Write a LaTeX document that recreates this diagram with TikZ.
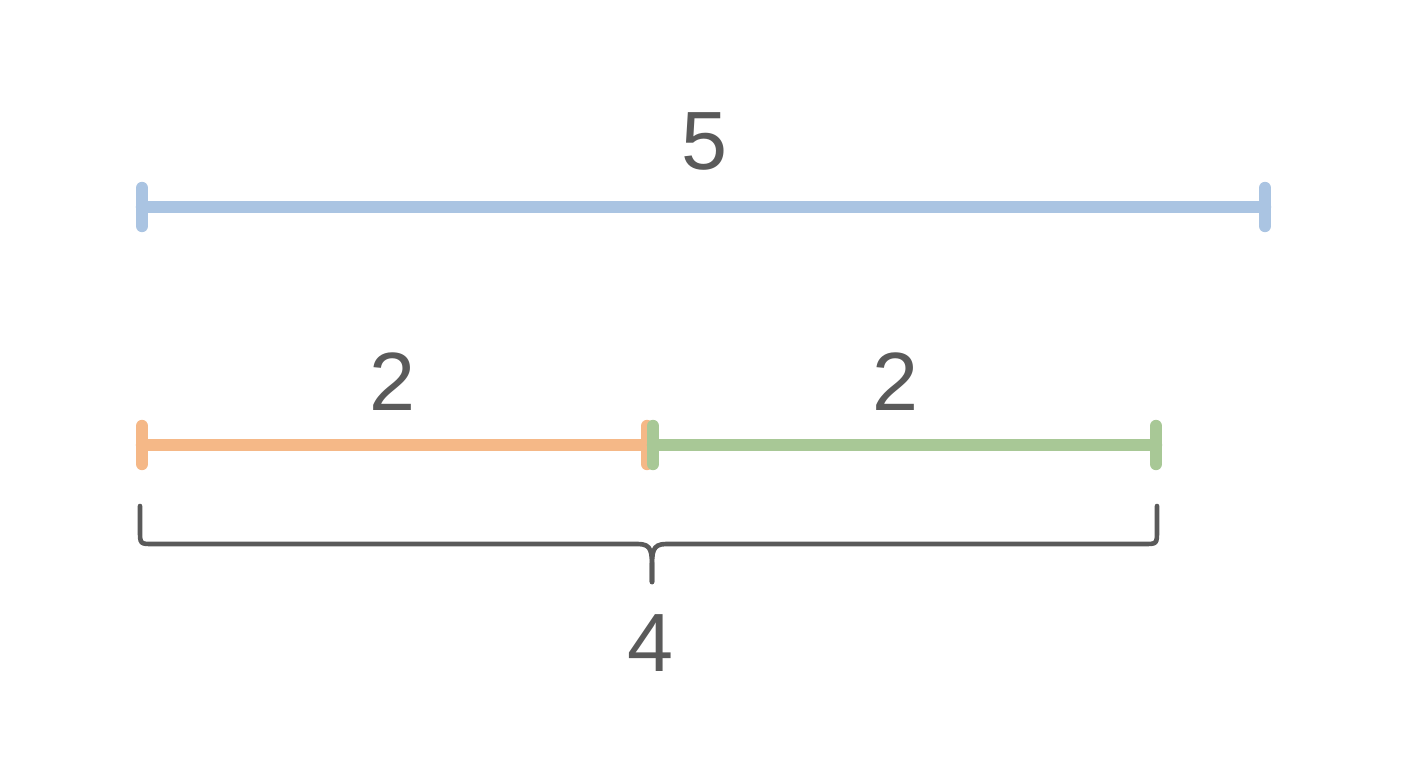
\documentclass[tikz,border=0pt]{standalone}
\usepackage{fontspec}
\setmainfont{Liberation Sans}
\usepackage{tikz}
\usetikzlibrary{calc}
\usepackage{xcolor}
\definecolor{seg-blue}{RGB}{170,196,226}
\definecolor{seg-orange}{RGB}{245,184,135}
\definecolor{seg-green}{RGB}{168,200,150}
\definecolor{label-gray}{RGB}{90,90,90}
\tikzset{
	seg line/.style={line width=6.2bp, line cap=round}
}
\tikzstyle{brace}=[draw=label-gray, line width=2.3bp, line cap=round]
\tikzstyle{numlabel}=[text=label-gray, font=\fontsize{41.5}{48}\selectfont, inner sep=0pt]
\newcommand{\tickSeg}[3]{
	\draw[seg line, #1] (#2) -- (#3);
	\draw[seg line, #1] ($(#2)+(0,-19)$) -- ($(#2)+(0,19)$);
	\draw[seg line, #1] ($(#3)+(0,-19)$) -- ($(#3)+(0,19)$);
}

\begin{document}
\begin{tikzpicture}[x=0.5bp, y=-0.5bp]
	\useasboundingbox (0,0) rectangle (1408,768);
	\coordinate (fiveL) at (142,207);
	\coordinate (fiveR) at (1265,207);
	\coordinate (twoaL) at (142,445);
	\coordinate (twoaR) at (647,445);
	\coordinate (twobL) at (653,445);
	\coordinate (twobR) at (1156,445);
	\tickSeg{seg-blue}{fiveL}{fiveR};
	\tickSeg{seg-orange}{twoaL}{twoaR};
	\tickSeg{seg-green}{twobL}{twobR};
	\node[numlabel] (five) at (704,141) {5};
	\node[numlabel] (twoa) at (392,382) {2};
	\node[numlabel] (twob) at (895,382) {2};
	% brace under the two short segments
	\coordinate (braceL) at (140,506);
	\coordinate (braceR) at (1157,506);
	\coordinate (braceM) at (652,582);
	\draw[brace] (braceL) -- (140,530) .. controls (140,544) .. (153,544) -- (638,544)
		.. controls (652,544) and (652,552) .. (652,570) -- (braceM);
	\draw[brace] (braceM) -- (652,570) .. controls (652,552) and (652,544) .. (666,544)
		-- (1144,544) .. controls (1157,544) .. (1157,530) -- (braceR);
	\node[numlabel] (four) at (650,643) {4};
\end{tikzpicture}
\end{document}
